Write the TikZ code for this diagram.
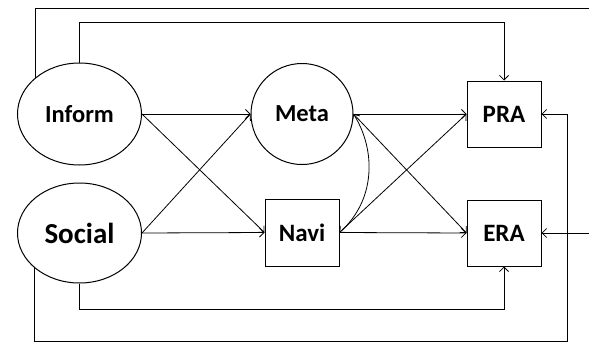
\documentclass[tikz,border=0pt]{standalone}
\usepackage{fontspec}
\setmainfont{Carlito}
\usetikzlibrary{shapes.geometric,arrows.meta}
\tikzset{
  lv/.style={ellipse,draw,line width=1pt,inner sep=0pt,font=\bfseries\fontsize{24.5}{27}\selectfont},
  obs/.style={rectangle,draw,line width=1pt,inner sep=0pt,minimum width=74pt,minimum height=66pt,font=\bfseries\fontsize{25}{27}\selectfont},
  path/.style={line width=0.8pt,-{Straight Barb[length=4.5pt,width=9pt]}},
  cov/.style={line width=0.8pt,{Straight Barb[length=4.5pt,width=9pt]}-{Straight Barb[length=4.5pt,width=9pt]}},
}
\begin{document}
\begin{tikzpicture}[x=1pt,y=-1pt]
  \clip (0,0) rectangle (589,343);
  \fill[white] (0,0) rectangle (589,343);

  % latent variables
  \node[lv,minimum width=124pt,minimum height=102pt] (inform) at (79.5,114) {Inform};
  \node[lv,minimum width=124pt,minimum height=100pt,font=\bfseries\fontsize{29}{31}\selectfont] (social) at (79.5,233) {Social};
  \node[lv,minimum width=102pt,minimum height=101pt] (meta) at (302,114) {Meta};

  % observed variables
  \node[obs,minimum height=67pt] (navi) at (302,232.5) {Navi};
  \node[obs] (pra) at (504,114) {PRA};
  \node[obs] (era) at (504,233) {ERA};

  % frame routing points
  \coordinate (topright) at (593,8.5);
  \coordinate (botright) at (567,341.5);

  % direct paths
  \draw[path] (inform.east) -- (meta.west);
  \draw[path] (inform.east) -- (navi.west);
  \draw[path] (social.east) -- (meta.west);
  \draw[path] (social.east) -- (navi.west);
  \draw[path] (meta.east) -- (pra.west);
  \draw[path] (meta.east) -- (era.west);
  \draw[path] (navi.east) -- (pra.west);
  \draw[path] (navi.east) -- (era.west);

  % covariance between Meta and Navi
  \draw[cov] (meta.east) .. controls (376,150) and (376,200) .. (navi.east);

  % outer routed paths
  \draw[path] (inform.north) -- ++(0,-40) -| (pra.north);
  \draw[path] (inform.141) |- (topright) |- (era.east);
  \draw[path] (social.south) -- ++(0,26) -| (era.south);
  \draw[path] (social.218) |- (botright) |- (pra.east);
\end{tikzpicture}
\end{document}
